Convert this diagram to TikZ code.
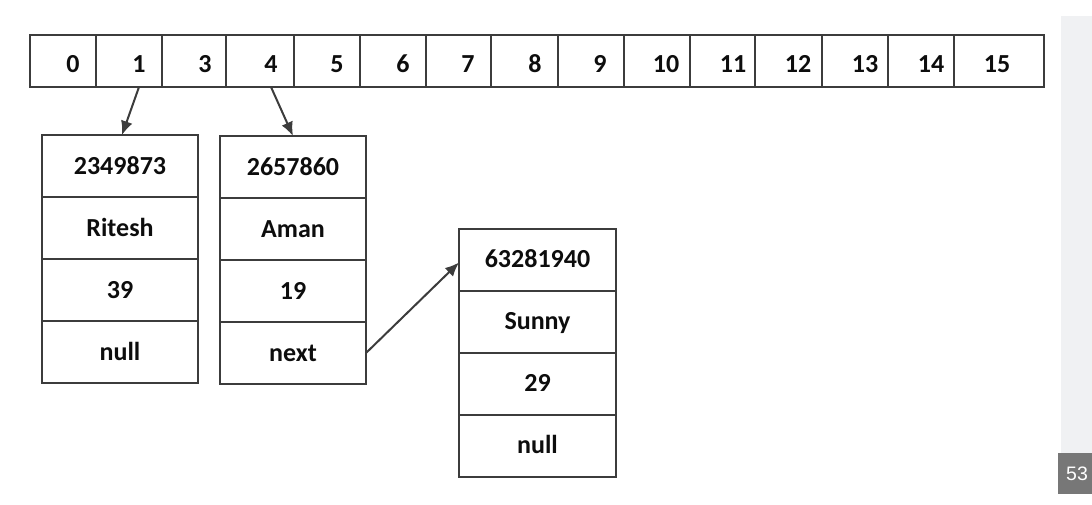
\documentclass[tikz,border=0pt]{standalone}
\usepackage{fontspec}
\setmainfont{Carlito}
\newfontfamily\badgefont{Liberation Sans}
\usetikzlibrary{shapes,arrows,arrows.meta,positioning,calc}
\definecolor{panelgray}{RGB}{240,241,243}
\definecolor{badgegray}{RGB}{119,119,119}
\definecolor{linegray}{RGB}{60,60,60}
\tikzstyle{slot} = [rectangle, draw=linegray, line width=2pt, outer sep=0pt, inner sep=0pt, minimum height=52pt]
\tikzstyle{idx} = [inner sep=0pt, text height=16.5pt, text depth=0pt, text=black!95, font=\fontsize{26}{30}\selectfont\bfseries]
\tikzstyle{field} = [rectangle, draw=linegray, line width=2pt, outer sep=0pt, inner sep=0pt, minimum height=62pt, text height=16.5pt, text depth=0pt, text=black!95, font=\fontsize{26}{30}\selectfont\bfseries]
\tikzstyle{link} = [draw=linegray, line width=2pt, -{Latex[length=14pt, width=12pt]}]
\begin{document}
\begin{tikzpicture}[x=1pt, y=1pt]
		\useasboundingbox (0,0) rectangle (1092,-504);
		\clip (0,0) rectangle (1092,-504);
		% Side panel
		\fill[panelgray] (1061,-16) rectangle (1092,-453);
		\fill[badgegray] (1058,-453) rectangle (1092,-494);
		\node[anchor=base west, inner sep=0pt, text=white, font=\badgefont\fontsize{19.5}{22}\selectfont] (badge) at (1066,-480) {53};
		
		% Array
		\node[slot, minimum width=66pt] (c0) at (63,-61) {};
		\node[slot, minimum width=66pt, right=0pt of c0] (c1) {};
		\node[slot, minimum width=64pt, right=0pt of c1] (c3) {};
		\node[slot, minimum width=68pt, right=0pt of c3] (c4) {};
		\node[slot, minimum width=66pt, right=0pt of c4] (c5) {};
		\node[slot, minimum width=66pt, right=0pt of c5] (c6) {};
		\node[slot, minimum width=65pt, right=0pt of c6] (c7) {};
		\node[slot, minimum width=67pt, right=0pt of c7] (c8) {};
		\node[slot, minimum width=66pt, right=0pt of c8] (c9) {};
		\node[slot, minimum width=66pt, right=0pt of c9] (c10) {};
		\node[slot, minimum width=65pt, right=0pt of c10] (c11) {};
		\node[slot, minimum width=67pt, right=0pt of c11] (c12) {};
		\node[slot, minimum width=66pt, right=0pt of c12] (c13) {};
		\node[slot, minimum width=66pt, right=0pt of c13] (c14) {};
		\node[slot, minimum width=90pt, right=0pt of c14] (c15) {};
		
		% Array labels
		\node[idx] (l0) at ([xshift=43pt, yshift=-3pt]c0.west) {0};
		\node[idx] (l1) at ([xshift=43pt, yshift=-3pt]c1.west) {1};
		\node[idx] (l3) at ([xshift=43pt, yshift=-3pt]c3.west) {3};
		\node[idx] (l4) at ([xshift=45pt, yshift=-3pt]c4.west) {4};
		\node[idx] (l5) at ([xshift=43pt, yshift=-3pt]c5.west) {5};
		\node[idx] (l6) at ([xshift=43pt, yshift=-3pt]c6.west) {6};
		\node[idx] (l7) at ([xshift=42pt, yshift=-3pt]c7.west) {7};
		\node[idx] (l8) at ([xshift=44pt, yshift=-3pt]c8.west) {8};
		\node[idx] (l9) at ([xshift=42pt, yshift=-3pt]c9.west) {9};
		\node[idx] (l10) at ([xshift=42pt, yshift=-3pt]c10.west) {10};
		\node[idx] (l11) at ([xshift=43pt, yshift=-3pt]c11.west) {11};
		\node[idx] (l12) at ([xshift=43pt, yshift=-3pt]c12.west) {12};
		\node[idx] (l13) at ([xshift=43pt, yshift=-3pt]c13.west) {13};
		\node[idx] (l14) at ([xshift=43pt, yshift=-3pt]c14.west) {14};
		\node[idx] (l15) at ([xshift=43pt, yshift=-3pt]c15.west) {15};
		
		% Record 1
		\node[field, minimum width=156pt] (r1a) at (120,-166) {2349873};
		\node[field, minimum width=156pt, below=0pt of r1a] (r1b) {Ritesh};
		\node[field, minimum width=156pt, below=0pt of r1b] (r1c) {39};
		\node[field, minimum width=156pt, below=0pt of r1c] (r1d) {null};
		
		% Record 2
		\node[field, minimum width=146pt] (r2a) at (293,-167) {2657860};
		\node[field, minimum width=146pt, below=0pt of r2a] (r2b) {Aman};
		\node[field, minimum width=146pt, below=0pt of r2b] (r2c) {19};
		\node[field, minimum width=146pt, below=0pt of r2c] (r2d) {next};
		
		% Record 3
		\node[field, minimum width=157pt] (r3a) at (537.5,-259.5) {63281940};
		\node[field, minimum width=157pt, below=0pt of r3a] (r3b) {Sunny};
		\node[field, minimum width=157pt, below=0pt of r3b] (r3c) {29};
		\node[field, minimum width=157pt, below=0pt of r3c] (r3d) {null};
		
		% Paths
		\path [link] (l1 |- c1.south) -- ([xshift=2pt]r1a.north);
		\path [link] (l4 |- c4.south) -- (r2a.north);
		\path [link] (r2d.east) -- ([yshift=-3pt]r3a.west);
		
	\end{tikzpicture}
\end{document}
